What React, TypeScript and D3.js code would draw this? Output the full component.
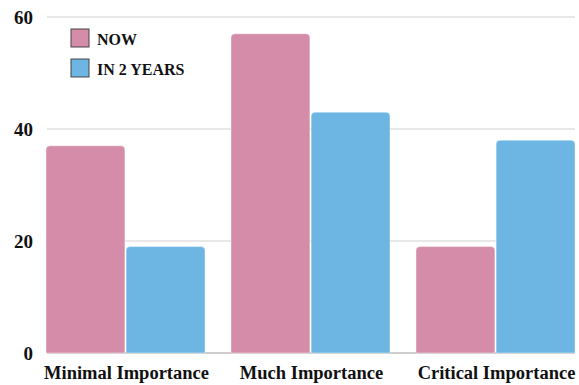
import React from "react";
import * as d3 from "d3";

const categories = ["Minimal Importance", "Much Importance", "Critical Importance"];
const seriesNames = ["NOW", "IN 2 YEARS"];
const nowValues = [37, 57, 19];
const in2YearsValues = [19, 43, 38];
const yTicks = [0, 20, 40, 60];
const colors = ["#D48CA8", "#6DB6E3"];

const W = 579;
const H = 385;
const FONT = "Liberation Serif";

function topRoundedRect(x: number, y: number, w: number, h: number, r: number) {
  const rr = Math.min(r, w / 2, h);
  return `M${x},${y + h}V${y + rr}Q${x},${y} ${x + rr},${y}H${x + w - rr}Q${x + w},${y} ${x + w},${y + rr}V${y + h}Z`;
}

const txt = { fontFamily: FONT, fontWeight: 700 } as React.CSSProperties;

export default function App() {
  const y = d3.scaleLinear().domain([0, 60]).range([353, 17]);
  const x0 = d3
    .scaleBand<string>()
    .domain(categories)
    .range([46, 46 + 3 * 185 - 26])
    .paddingInner(26 / 185)
    .paddingOuter(0);
  const x1 = d3
    .scaleBand<string>()
    .domain(seriesNames)
    .range([0, x0.bandwidth()])
    .paddingInner(0.015);
  const data = [nowValues, in2YearsValues];

  return (
    <svg width={W} height={H} style={{ position: "absolute", left: 0, top: 0, background: "#fff" }}>
      {yTicks.slice(1).map((t) => (
        <line key={t} x1={47} x2={575} y1={y(t)} y2={y(t)} stroke="#e0e0e0" strokeWidth={1.5} />
      ))}
      <line x1={47} x2={575} y1={y(0)} y2={y(0)} stroke="#bdbdbd" strokeWidth={1.5} />
      {yTicks.map((t) => (
        <text
          key={t}
          x={33}
          y={y(t)}
          textAnchor="end"
          dominantBaseline="central"
          style={{ ...txt, fontSize: 19 }}
          fill="#111"
        >
          {t}
        </text>
      ))}
      {categories.map((c, ci) =>
        seriesNames.map((s, si) => {
          const v = data[si][ci];
          const bx = (x0(c) ?? 0) + (x1(s) ?? 0);
          const bw = x1.bandwidth();
          return (
            <path
              key={c + s}
              d={topRoundedRect(bx, y(v), bw, y(0) - y(v), 4)}
              fill={colors[si]}
              stroke="#ffffff"
              strokeOpacity={0.5}
              strokeWidth={0.8}
            />
          );
        })
      )}
      {categories.map((c) => (
        <text
          key={c}
          x={(x0(c) ?? 0) + x0.bandwidth() / 2 + 1}
          y={379}
          textAnchor="middle"
          style={{ ...txt, fontSize: 18.5 }}
          fill="#111"
        >
          {c}
        </text>
      ))}
      {seriesNames.map((s, i) => (
        <g key={s} transform={`translate(71,${29 + i * 30})`}>
          <rect x={0} y={0} width={18} height={18} fill={colors[i]} stroke="#444" strokeWidth={1} />
          <text x={26} y={10} dominantBaseline="central" style={{ ...txt, fontSize: 16 }} fill="#111">
            {s}
          </text>
        </g>
      ))}
    </svg>
  );
}
